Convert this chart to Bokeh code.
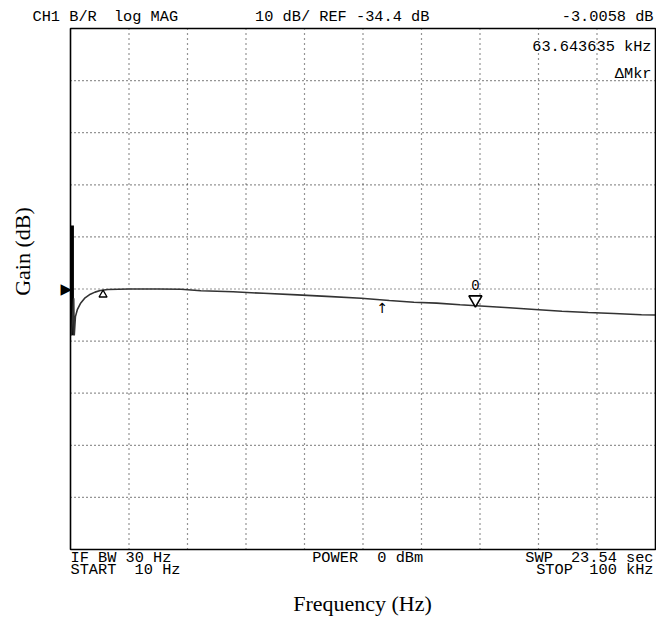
import numpy as np
from bokeh.plotting import figure
from bokeh.models import Range1d, Label
from bokeh.embed import file_html
from bokeh.resources import INLINE

# ---------------- data ----------------
START_HZ = 10
STOP_HZ = 100000
REF_DB = -34.4
DB_PER_DIV = 10
N_DIV = 10

# initial transient at the left edge
START_FREQ_HZ = [340, 340]
START_GAIN_DB = [-22.2, -43.3]

FREQ_HZ = [170, 560, 650, 850, 1200, 1700, 2500, 3400, 4200, 5100, 6400,
           10000, 15000, 18900, 22300, 27800, 33000, 38800, 43800, 49700,
           54500, 58700, 62600, 66600, 70800, 75000, 79400, 84000, 88500,
           92900, 97600, 100000]
GAIN_DB = [-43.3, -36.2, -43.3, -39.7, -38.3, -37.2, -36.1, -35.4, -35.0, -34.7, -34.5,
           -34.4, -34.4, -34.45, -34.75, -34.94, -35.23, -35.53, -35.82, -36.17,
           -36.61, -36.93, -37.12, -37.43, -37.70, -38.01, -38.33, -38.66, -38.91,
           -39.10, -39.35, -39.39]

MKR_REF_HZ = 5574
MKR_DELTA_HZ = 63643.635
ARROW_HZ = 53300

# text segments (split where the instrument screen has wide gaps)
HEADER = [("CH1 B/R", 32, "left"), ("log MAG", 114, "left"),
          ("10 dB/ REF -34.4 dB", 257, "left"), ("-3.0058 dB", 661, "right")]
MKR_TEXT = "63.643635 kHz"
MKR_MODE = "ΔMkr"
FOOT_1 = [("IF BW 30 Hz", 70, "left"), ("POWER", 315, "left"), ("0 dBm", 381, "left"),
          ("SWP", 531, "left"), ("23.54 sec", 661, "right")]
FOOT_2 = [("START", 70, "left"), ("10 Hz", 135, "left"),
          ("STOP", 542, "left"), ("100 kHz", 661, "right")]
X_LABEL = "Frequency (Hz)"
Y_LABEL = "Gain (dB)"

# ---------------- layout ----------------
W, H = 656, 619
FL, FR, FT, FB = 70, 655, 28, 549          # chart box in canvas pixels
y_top = REF_DB + N_DIV / 2 * DB_PER_DIV
y_bot = REF_DB - N_DIV / 2 * DB_PER_DIV
PX_PER_DB = (FB - FT) / (y_top - y_bot)
HZ_PER_PX = (STOP_HZ - START_HZ) / (FR - FL)


def fx(px):
    return START_HZ + (px - FL) * HZ_PER_PX


def fy(py):
    return y_top - (py - FT) / PX_PER_DB


def rx(px_ref):
    # reference pixel (593 px wide box) -> canvas pixel
    return px_ref if px_ref < FL else FL + (px_ref - FL) * (FR - FL) / 593.0


p = figure(width=W, height=H, title=None,
           x_range=Range1d(fx(0), fx(W)), y_range=Range1d(fy(H), fy(0)),
           x_axis_type=None, y_axis_type=None,
           output_backend="svg", toolbar_location=None,
           min_border=0, min_border_left=0, min_border_right=0,
           min_border_top=0, min_border_bottom=0,
           background_fill_color="white", border_fill_color="white",
           outline_line_color=None)
p.grid.visible = False

# dotted graticule
xt = np.linspace(START_HZ, STOP_HZ, N_DIV + 1)[1:-1]
yt = np.linspace(y_bot, y_top, N_DIV + 1)[1:-1]
p.segment(x0=xt, y0=[y_bot] * len(xt), x1=xt, y1=[y_top] * len(xt),
          line_color="#2a2a2a", line_dash="1 4", line_width=1.2)
p.segment(x0=[START_HZ] * len(yt), y0=yt, x1=[STOP_HZ] * len(yt), y1=yt,
          line_color="#2a2a2a", line_dash="1 3", line_width=1.2)

# traces
p.line(START_FREQ_HZ, START_GAIN_DB, line_color="black", line_width=3)
p.line(FREQ_HZ, GAIN_DB, line_color="#333333", line_width=1.6)

# chart box
p.quad(left=[START_HZ], right=[STOP_HZ], bottom=[y_bot], top=[y_top],
       fill_color=None, line_color="black", line_width=1.6)

# markers
ref_db = float(np.interp(MKR_REF_HZ, FREQ_HZ, GAIN_DB))
m0_hz = MKR_REF_HZ + MKR_DELTA_HZ
m0_db = float(np.interp(m0_hz, FREQ_HZ, GAIN_DB))
p.scatter([MKR_REF_HZ], [ref_db - 4.5 / PX_PER_DB], marker="triangle", size=8,
          fill_color="white", line_color="black", line_width=1.3)
p.scatter([m0_hz], [m0_db + 6.0 / PX_PER_DB], marker="inverted_triangle", size=13,
          fill_color="white", line_color="black", line_width=1.6)

MONO = "Liberation Mono"
MSIZE = "15.3px"


def lab(text, px, py, align="left", font=MONO, size=MSIZE, angle=0.0):
    p.add_layout(Label(x=fx(px), y=fy(py), text=text, text_align=align,
                       text_baseline="middle", text_font=font, text_font_size=size,
                       text_color="black", angle=angle))


p.add_layout(Label(x=m0_hz, y=m0_db + 21.0 / PX_PER_DB, text="0", text_align="center",
                   text_baseline="middle", text_font=MONO, text_font_size="14px",
                   text_color="black"))
p.add_layout(Label(x=ARROW_HZ, y=fy(307), text="↑", text_align="center",
                   text_baseline="middle", text_font="DejaVu Sans", text_font_size="14px",
                   text_color="black"))
p.add_layout(Label(x=fx(60), y=REF_DB, text="▶", text_align="left",
                   text_baseline="middle", text_font="DejaVu Sans", text_font_size="15px",
                   text_color="black"))

for t, x, a in HEADER:
    lab(t, rx(x), 16, align=a)
lab(MKR_TEXT, rx(659), 46, align="right")
lab(MKR_MODE, rx(659), 73, align="right")
for t, x, a in FOOT_1:
    lab(t, rx(x), 557, align=a)
for t, x, a in FOOT_2:
    lab(t, rx(x), 569, align=a)

lab(X_LABEL, rx(366), 603, align="center", font="Liberation Serif", size="22px")
lab(Y_LABEL, 22, 251, align="center", font="Liberation Serif", size="22px", angle=np.pi / 2)

open("out.html", "w").write(file_html(p, INLINE))
